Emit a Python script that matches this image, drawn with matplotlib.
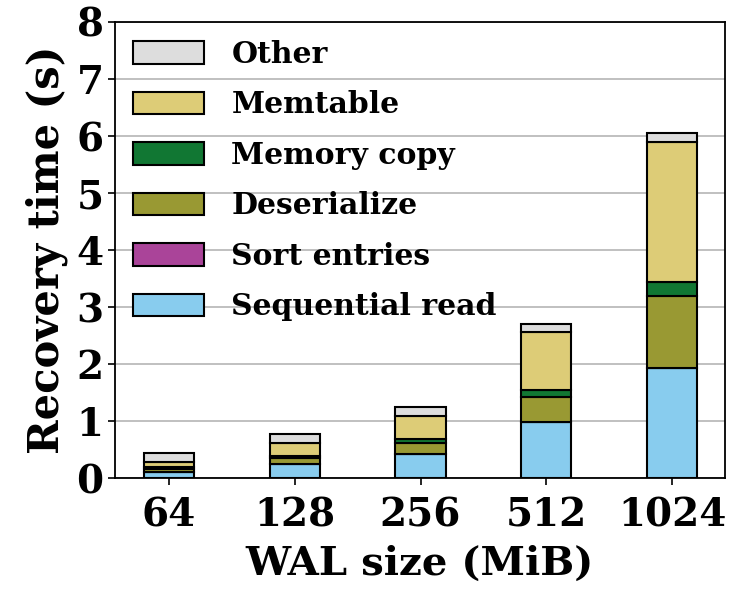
import numpy as np
from matplotlib import pyplot as plt

plt.rcParams['font.family'] = ['DejaVu Serif']
plt.rcParams['font.weight'] = 'bold'
plt.rcParams['axes.labelweight'] = 'bold'
plt.rcParams['axes.unicode_minus'] = False

wal_sizes = ['64', '128', '256', '512', '1024']

seq_read = [0.11, 0.25, 0.42, 0.98, 1.94]
sort_entries = [0.0, 0.0, 0.0, 0.0, 0.0]
deserialize = [0.05, 0.11, 0.20, 0.45, 1.25]
memory_copy = [0.03, 0.03, 0.06, 0.11, 0.25]
memtable = [0.09, 0.22, 0.41, 1.02, 2.46]
other = [0.16, 0.16, 0.16, 0.15, 0.16]

labels = ['Sequential read', 'Sort entries', 'Deserialize',
          'Memory copy', 'Memtable', 'Other']
colors = ['#88CCEE', '#AA4499', '#999933', '#117733', '#DDCC77', '#DDDDDD']
series = [seq_read, sort_entries, deserialize, memory_copy, memtable, other]

fig = plt.figure(figsize=(7.36, 5.94), dpi=100)
ax = fig.add_axes([0.156, 0.195, 0.829, 0.768])

x = np.arange(len(wal_sizes))
bottom = np.zeros(len(wal_sizes))
handles = []
for vals, lab, col in zip(series, labels, colors):
    vals = np.array(vals)
    b = ax.bar(x, vals, 0.4, bottom=bottom, color=col, edgecolor='black',
               linewidth=1.5, label=lab, zorder=3)
    handles.append(b)
    bottom += vals

ax.set_ylim(0, 8)
ax.set_xlim(-0.43, 4.42)
ax.set_yticks(range(0, 9))
ax.set_xticks(x)
ax.set_xticklabels(wal_sizes)
ax.yaxis.grid(True, color='#b5b5b5', linewidth=1.2, zorder=0)
ax.set_axisbelow(True)
ax.tick_params(axis='both', labelsize=28, width=1.2, length=5)
ax.tick_params(axis='x', pad=8)
ax.tick_params(axis='y', pad=3)
for s in ax.spines.values():
    s.set_linewidth(1.3)

ax.set_xlabel('WAL size (MiB)', fontsize=29, labelpad=8)
ax.set_ylabel('Recovery time (s)', fontsize=30, labelpad=6)

ax.legend(handles[::-1], labels[::-1], loc='upper left', frameon=False,
          fontsize=21.5, handlelength=2.4, handleheight=0.8,
          handletextpad=0.9, labelspacing=0.72, borderaxespad=0.3,
          borderpad=0.3)

fig.savefig('out.png', dpi=100)
